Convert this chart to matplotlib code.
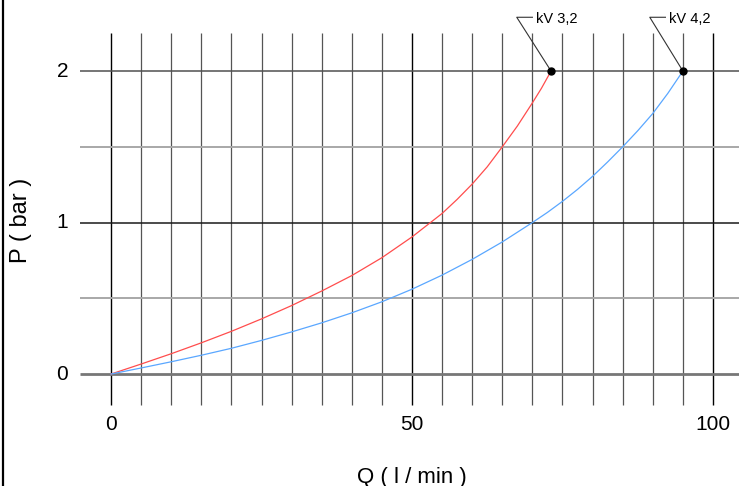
import numpy as np
import matplotlib
matplotlib.use("Agg")
import matplotlib.pyplot as plt

plt.rcParams['font.family'] = ['Liberation Sans', 'DejaVu Sans']

# flow (l/min) vs pressure drop (bar)
q_kv32 = [0, 5, 10, 15, 20, 25, 30, 35, 40, 45, 50, 55, 57.5, 60, 62.5, 65, 67.5, 70, 71.5, 73.1]
p_kv32 = [0, 0.066, 0.134, 0.206, 0.282, 0.364, 0.452, 0.548, 0.65, 0.768, 0.905, 1.06, 1.153,
          1.254, 1.368, 1.5, 1.637, 1.79, 1.886, 2.0]

q_kv42 = [0, 5, 10, 15, 20, 25, 30, 35, 40, 45, 50, 55, 60, 65, 70, 72.5, 75, 77.5, 80, 82.5,
          85, 87.5, 90, 92.5, 95]
p_kv42 = [0, 0.040, 0.081, 0.124, 0.170, 0.222, 0.278, 0.338, 0.404, 0.477, 0.560, 0.653, 0.757,
          0.872, 1.0, 1.067, 1.14, 1.219, 1.305, 1.40, 1.5, 1.606, 1.72, 1.853, 2.0]

labels = ["kV 3,2", "kV 4,2"]
x_ticks = [0, 50, 100]
y_ticks = [0, 1, 2]

fig = plt.figure(figsize=(7.39, 4.86), dpi=100)
ax = fig.add_axes([0, 0, 1, 1])
ax.set_xlim(-18.44, 104.32)
ax.set_ylim(-0.739, 2.469)
ax.axis("off")

# vertical grid, every 5 l/min
for q in range(0, 101, 5):
    if q % 50 == 0:
        ax.vlines(q, -0.205, 2.251, color="black", lw=1.0, zorder=1)
    else:
        ax.vlines(q, -0.205, 2.251, color="#555555", lw=0.9, zorder=1)

# horizontal grid, every 0.5 bar
hstyle = {0: ("#777777", 2.0), 0.5: ("#a8a8a8", 1.4), 1: ("#1a1a1a", 1.1),
          1.5: ("#a8a8a8", 1.4), 2: ("#505050", 1.1)}
for p, (c, w) in hstyle.items():
    ax.hlines(p, -5.15, 104.32, color=c, lw=w, zorder=1)

# left frame line
ax.plot([0.004, 0.004], [0, 1], transform=fig.transFigure, color="black", lw=1.6, clip_on=False)

ax.plot(q_kv32, p_kv32, color="#ff4d4d", lw=0.9, zorder=3)
ax.plot(q_kv42, p_kv42, color="#5aa7ff", lw=0.9, zorder=3)

ends = [(q_kv32[-1], p_kv32[-1]), (q_kv42[-1], p_kv42[-1])]
leader_top = [67.4, 89.5]
for (qe, pe), xt, lab in zip(ends, leader_top, labels):
    ax.plot(qe, pe, "o", color="black", ms=5, zorder=4)
    ax.plot([qe, xt, xt + 2.6], [pe, 2.355, 2.355], color="#333333", lw=0.8, zorder=2)
    ax.text(xt + 3.2, 2.319, lab, fontsize=10.5, ha="left", va="baseline")

for q in x_ticks:
    ax.text(q, -0.33, str(q), fontsize=15, ha="center", va="center")
for p in y_ticks:
    ax.text(-7.1, p, str(p), fontsize=15, ha="right", va="center")

ax.text(50, -0.72, "Q ( l / min )", fontsize=16, ha="center", va="baseline")
ax.text(-13.95, 1.017, "P ( bar )", fontsize=17, ha="center", va="baseline",
        rotation=90, rotation_mode="anchor")

fig.savefig("out.png", dpi=100)
